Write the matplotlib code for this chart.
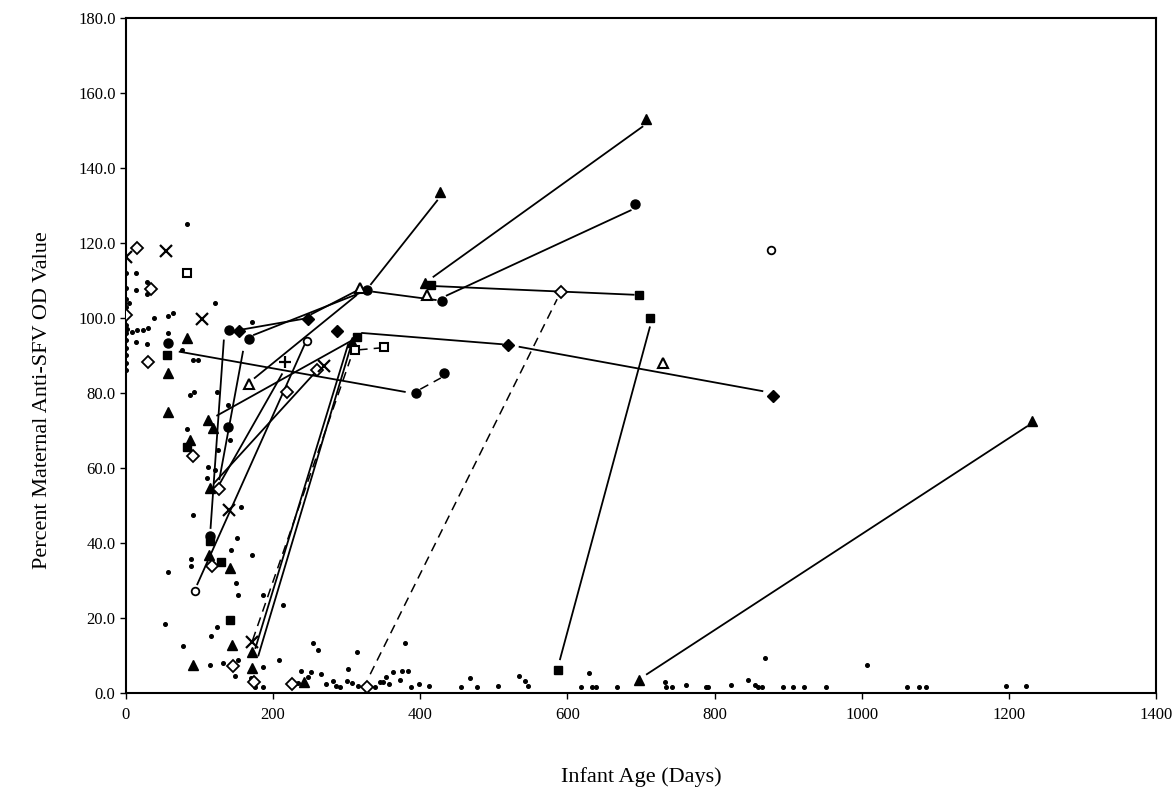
import matplotlib.pyplot as plt

plt.rcParams['font.family'] = ['Liberation Serif', 'DejaVu Serif']

# --- data (infant age in days, % maternal OD value) ---
dots_x = [0, 0, 0, 0, 0, 0, 0, 0, 0, 0, 0, 2, 4, 14, 14, 28, 28, 8, 15, 23, 30, 14, 28,
          57, 38, 57, 64, 121, 171, 91, 98, 76, 92, 124, 139, 83, 87, 83,
          125, 141, 111, 121, 110, 91, 156, 151, 143, 171, 88, 88, 57, 149, 152, 186,
          213, 53, 124, 116, 77, 114, 132, 152, 186, 208, 148, 186, 170, 176,
          254, 261, 314, 379, 302, 238, 251, 265, 234, 247, 225, 272, 281, 285, 291,
          300, 307, 316, 338, 345, 349, 353, 357, 363, 372, 375, 384, 387, 398, 412,
          455, 468, 477, 506, 534, 543, 546, 618, 629, 633, 639, 668, 732, 734, 742,
          761, 788, 791, 823, 845, 855, 859, 865, 869, 893, 906, 922, 951, 1007,
          1061, 1078, 1087, 1196, 1223]
dots_y = [112, 108, 105, 103, 98, 96, 94, 92, 90, 88, 86, 97, 104, 112, 107.5, 109.6, 106.4, 96.3, 96.8, 96.8, 97.3, 93.6, 93,
          100.5, 100, 96, 101.3, 104, 98.9, 88.8, 88.8, 91.5, 80.3, 80.3, 76.8, 70.4, 79.5, 125,
          64.8, 67.5, 60.3, 59.5, 57.3, 47.5, 49.6, 41.3, 38.1, 36.8, 35.7, 33.9, 32.3, 29.3, 26.1, 26.1,
          23.5, 18.4, 17.6, 15.2, 12.5, 7.5, 8, 8.8, 6.9, 8.8, 4.5, 1.6, 4, 1.5,
          13.3, 11.5, 10.9, 13.3, 6.4, 5.9, 5.6, 5, 2.7, 4.3, 1.9, 2.4, 3.2, 1.9, 1.6,
          3.2, 2.7, 1.9, 1.5, 2.8, 2.8, 4.3, 2.3, 5.6, 3.5, 5.9, 5.9, 1.5, 2.5, 1.8,
          1.6, 4, 1.6, 1.9, 4.5, 3.2, 1.9, 1.6, 5.3, 1.6, 1.6, 1.6, 2.9, 1.6, 1.6,
          2.1, 1.6, 1.6, 2.1, 3.5, 2.1, 1.6, 1.6, 9.3, 1.6, 1.6, 1.6, 1.6, 7.5,
          1.6, 1.6, 1.6, 1.9, 1.9]

tri_x = [707, 427, 407, 307, 83, 57, 57, 111, 118, 87, 114, 113, 141, 144, 91, 171, 171, 242, 698, 1231]
tri_y = [153, 133.5, 109.3, 93.6, 94.7, 85.3, 75, 72.8, 70.7, 67.5, 54.7, 36.8, 33.3, 12.8, 7.5, 6.7, 11, 3, 3.5, 72.5]

circ_x = [692, 429, 327, 140, 167, 57, 394, 432, 139, 114]
circ_y = [130.5, 104.5, 107.5, 96.8, 94.4, 93.3, 80, 85.3, 70.9, 41.9]

dia_x = [153.5, 247, 287, 519, 879]
dia_y = [96.5, 99.7, 96.5, 92.8, 79.2]

sq_x = [414, 314, 697, 712, 56, 83, 129, 141, 587, 114]
sq_y = [108.8, 94.9, 106, 100, 90.1, 65.6, 34.9, 19.5, 6, 40.5]

odia_x = [15, 34, 0, 30, 219, 259.5, 91, 126, 117, 145, 174, 226, 327, 591]
odia_y = [118.7, 107.7, 100.8, 88.3, 80.3, 86.1, 63.2, 54.4, 33.9, 7.2, 2.9, 2.5, 1.6, 107]

cross_x = [0, 54, 103, 140, 269, 171]
cross_y = [116.3, 117.9, 99.7, 48.8, 87.2, 13.6]

otri_x = [167, 318, 409, 730]
otri_y = [82.4, 108, 106.1, 88]

osq_x = [83, 311, 350.5]
osq_y = [112, 91.5, 92.3]

ocirc_x = [94, 246, 877]
ocirc_y = [27.2, 93.9, 118]

plus_x = [216]
plus_y = [88.3]

# connecting segments: (x0, y0, x1, y1)
solid_segs = [
    (333, 109, 423, 131.3), (418, 111, 702, 151), (436, 106, 686, 128.7),
    (420, 108.5, 690, 106.2), (336, 107, 421, 104.8), (160, 97, 242, 99.8),
    (252, 101, 316, 107.5), (174, 95.5, 316, 106.5), (321, 96, 511, 93),
    (535, 92.3, 865, 80.5), (73, 91, 379, 80.3), (175, 84, 313, 106),
    (124, 74, 307, 94), (133, 94, 115, 44), (159, 91, 127, 57),
    (128, 56, 212, 85), (120, 56, 255, 85), (97, 29, 243, 93),
    (180, 10, 305, 92), (176, 12, 302, 93), (590, 9, 712, 97.5),
    (708, 5, 1224, 71),
]
dashed_segs = [
    (172, 14, 305, 89), (316, 91.5, 345, 92), (332, 5, 586, 105), (400, 81, 428, 84),
]

fig = plt.figure(figsize=(11.75, 7.99), dpi=100)
ax = fig.add_axes([0.1072, 0.1327, 0.8766, 0.8448])

for x0, y0, x1, y1 in solid_segs:
    ax.plot([x0, x1], [y0, y1], color='black', lw=1.3, zorder=2)
for x0, y0, x1, y1 in dashed_segs:
    ax.plot([x0, x1], [y0, y1], color='black', lw=1.1, ls=(0, (6, 4)), zorder=2)

ax.plot(dots_x, dots_y, 'o', color='black', ms=2.6, zorder=3)
ax.plot(tri_x, tri_y, '^', color='black', ms=7.5, zorder=4)
ax.plot(circ_x, circ_y, 'o', color='black', ms=6.5, zorder=4)
ax.plot(dia_x, dia_y, 'D', color='black', ms=6, zorder=4)
ax.plot(sq_x, sq_y, 's', color='black', ms=6, zorder=4)
ax.plot(odia_x, odia_y, 'D', mfc='white', mec='black', mew=1.3, ms=6, zorder=4)
ax.plot(cross_x, cross_y, 'x', color='black', mew=1.6, ms=8, zorder=4)
ax.plot(otri_x, otri_y, '^', mfc='white', mec='black', mew=1.5, ms=7.5, zorder=4)
ax.plot(osq_x, osq_y, 's', mfc='white', mec='black', mew=1.5, ms=6, zorder=4)
ax.plot(ocirc_x, ocirc_y, 'o', mfc='white', mec='black', mew=1.3, ms=5.5, zorder=4)
ax.plot(plus_x, plus_y, '+', color='black', mew=1.6, ms=9, zorder=4)

ax.set_xlim(0, 1400)
ax.set_ylim(0, 180)
ax.set_xticks(range(0, 1401, 200))
ax.set_yticks(range(0, 181, 20))
ax.set_yticklabels([f'{v:.1f}' for v in range(0, 181, 20)])
ax.tick_params(labelsize=12, direction='out', length=4, width=1)
ax.tick_params(axis='x', pad=6)
for s in ax.spines.values():
    s.set_linewidth(1.5)

ax.set_xlabel('Infant Age (Days)', fontsize=16, labelpad=32)
ax.set_ylabel('Percent Maternal Anti-SFV OD Value', fontsize=16)
ax.yaxis.set_label_coords(-0.072, 0.434)

fig.savefig('out.png', dpi=100)
